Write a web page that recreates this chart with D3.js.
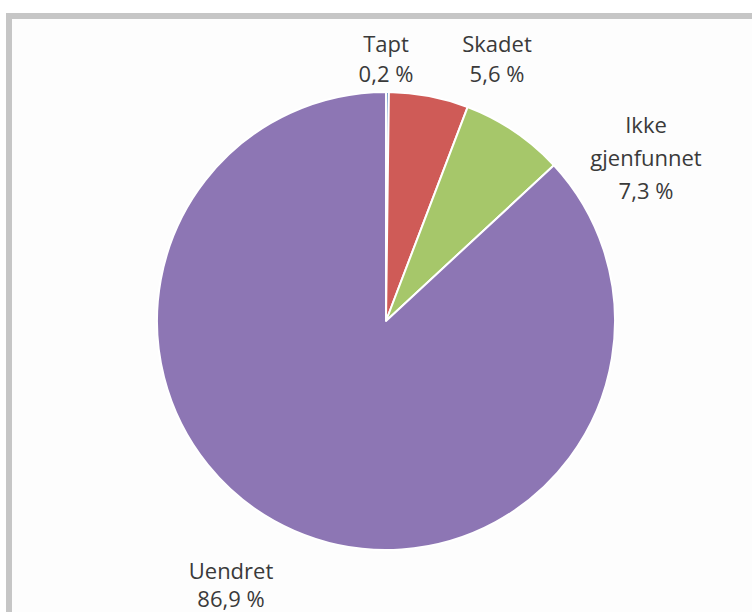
<!DOCTYPE html>
<html>
<head>
<meta charset="utf-8">
<script src="https://cdn.jsdelivr.net/npm/d3@7"></script>
<style>
  body { margin: 0; background: #fff; }
  text { font-family: "Open Sans", sans-serif; fill: #3a3a3a; }
</style>
</head>
<body>
<div id="chart"></div>
<script>
const categories = ['Tapt', 'Skadet', 'Ikke gjenfunnet', 'Uendret'];
const values = [0.2, 5.6, 7.3, 86.9];
const labelLines = [['Tapt', '0,2 %'], ['Skadet', '5,6 %'], ['Ikke', 'gjenfunnet', '7,3 %'], ['Uendret', '86,9 %']];

const width = 752;
const height = 612;
const cx = 386, cy = 321, radius = 229;

// where each label block sits (first baseline, line height), tuned by eye
const labelPos = [[386, 52, 30], [497, 52, 30], [646, 133, 33], [231, 579, 28]];

const color = d3.scaleOrdinal()
  .domain(categories)
  .range(['#4f81bd', '#cf5b57', '#a6c76a', '#8d76b4']);

const svg = d3.select('#chart')
  .append('svg')
  .attr('width', width)
  .attr('height', height);

// frame (cropped on right and bottom)
svg.append('rect')
  .attr('x', 9)
  .attr('y', 16)
  .attr('width', 800)
  .attr('height', 700)
  .attr('fill', '#fdfdfd')
  .attr('stroke', '#c6c6c6')
  .attr('stroke-width', 6);

const pie = d3.pie().sort(null).value(d => d.value);
const arc = d3.arc().innerRadius(0).outerRadius(radius);

const data = categories.map((c, i) => ({ name: c, value: values[i] }));

const g = svg.append('g')
  .attr('transform', 'translate(' + cx + ',' + cy + ')');

g.selectAll('path')
  .data(pie(data))
  .enter()
  .append('path')
  .attr('d', arc)
  .attr('fill', d => color(d.data.name))
  .attr('stroke', '#ffffff')
  .attr('stroke-width', 2)
  .attr('stroke-linejoin', 'round');

const labels = svg.selectAll('text.label')
  .data(labelLines)
  .enter()
  .append('text')
  .attr('class', 'label')
  .attr('text-anchor', 'middle')
  .style('font-size', '22px');

labels.each(function(lines, i) {
  const [x, y, lh] = labelPos[i];
  d3.select(this).selectAll('tspan')
    .data(lines)
    .enter()
    .append('tspan')
    .attr('x', x)
    .attr('y', (d, j) => y + j * lh)
    .text(d => d);
});
</script>
</body>
</html>
